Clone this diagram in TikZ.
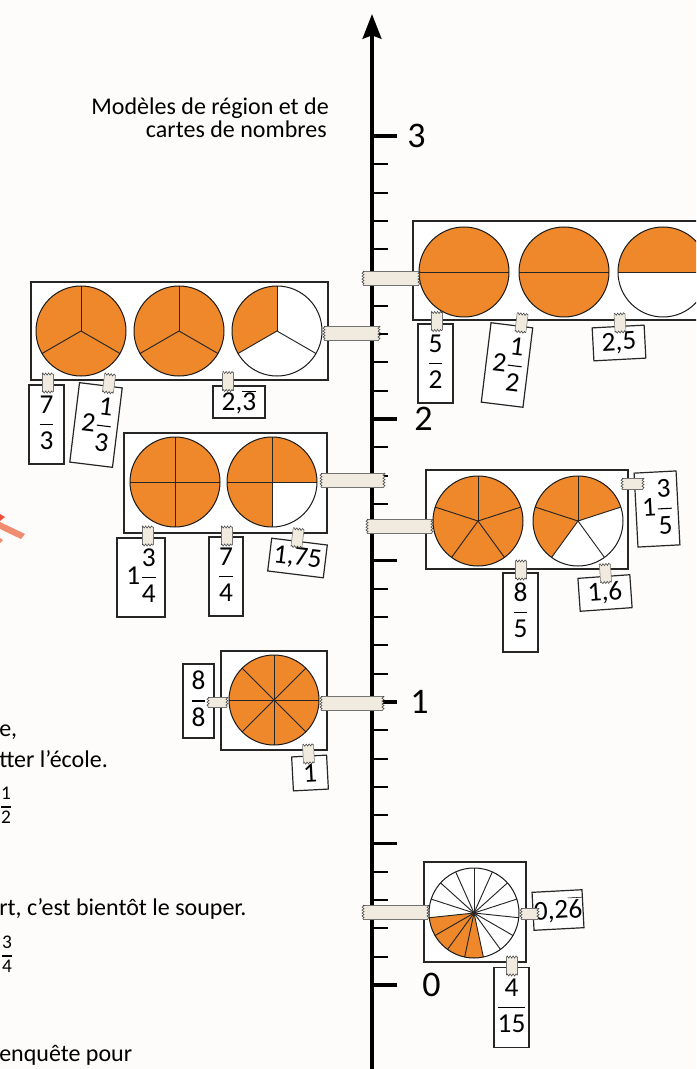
\documentclass[tikz,border=0pt]{standalone}
\usepackage{fontspec}
\setmainfont{Carlito}
\usetikzlibrary{arrows.meta,decorations.pathmorphing}
\definecolor{bg}{RGB}{253,252,250}
\definecolor{org}{RGB}{239,136,42}
\definecolor{tapec}{RGB}{240,235,222}
\definecolor{salmon}{RGB}{240,140,112}
\definecolor{redbit}{RGB}{238,80,60}
\setlength\arrayrulewidth{0.8pt}
\newcommand\frc[2]{{\renewcommand\arraystretch{1.1}\begin{tabular}{@{}c@{}}#1\\\hline #2\end{tabular}}}
\newcommand\mixed[3]{#1\kern1.2pt\frc{#2}{#3}}
\newcommand\piefull[3]{\fill[org] (#1,-#2) circle (45);
  \foreach \a in {#3} \draw[seg] (#1,-#2) -- ++(\a:45);
  \draw[rim] (#1,-#2) circle (45);}
\newcommand\piepart[5]{\fill[white] (#1,-#2) circle (45);
  \fill[org] (#1,-#2) -- ++(#3:45) arc[start angle=#3,end angle=#4,radius=45] -- cycle;
  \foreach \a in {#5} \draw[seg] (#1,-#2) -- ++(\a:45);
  \draw[rim] (#1,-#2) circle (45);}
\newcommand\htape[4]{\fill[tapec] (#1,-#3+#4) rectangle (#2,-#3-#4);
  \draw[tapeedge] (#1,-#3+#4) -- (#2,-#3+#4) (#1,-#3-#4) -- (#2,-#3-#4);
  \draw[tapeend] (#1,-#3+#4) -- (#1,-#3-#4);
  \draw[tapeend] (#2,-#3+#4) -- (#2,-#3-#4);}
\newcommand\cardnode[7]{\node[card,minimum width=#4*0.75pt,minimum height=#5*0.75pt,rotate=#6] (#1) at (#2,-#3) {#7};}
\begin{document}
\begin{tikzpicture}[x=0.75pt,y=0.75pt,
  box/.style={draw=black!85,line width=0.9pt,fill=white},
  card/.style={draw=black!85,line width=0.9pt,fill=white,inner sep=0pt,font=\fontsize{20.5}{24}\selectfont},
  tapeedge/.style={draw=black!55,line width=0.4pt},
  tapeend/.style={draw=black!75,line width=0.4pt,decorate,decoration={zigzag,amplitude=0.8pt,segment length=2.2pt}},
  seg/.style={draw=black!85,line width=0.7pt},
  rim/.style={draw=black!90,line width=0.75pt},
  minor/.style={line width=1.5pt},
  major/.style={line width=2.4pt},
  axlabel/.style={anchor=west,inner sep=0pt,font=\fontsize{27}{30}\selectfont},
  txt/.style={anchor=base west,inner sep=0pt,font=\fontsize{18}{21}\selectfont},
  vtape/.pic={\fill[tapec] (-5.5,-9) rectangle (5.5,9);
    \draw[tapeedge] (-5.5,-9) -- (-5.5,9) (5.5,-9) -- (5.5,9);
    \draw[tapeend] (-5.5,9) -- (5.5,9);
    \draw[tapeend] (-5.5,-9) -- (5.5,-9);}]
\useasboundingbox (0,0) rectangle (696,-1069);
\fill[bg] (0,0) rectangle (696,-1069);
\clip (0,0) rectangle (696,-1069);

% number line
\draw[line width=3pt,-{Stealth[length=18.5pt,width=14pt,inset=2.5pt]}] (372,-1075) -- (372,-14);
\foreach \i in {0,...,30} \draw[minor] (372,{-985+\i*28.3}) -- (388,{-985+\i*28.3});
\foreach \i in {0,5,...,30} \draw[major] (372,{-985+\i*28.3}) -- (397,{-985+\i*28.3});
\node[axlabel] (l3) at (407,-136) {3};
\node[axlabel] (l2) at (414,-419) {2};
\node[axlabel] (l1) at (410,-702) {1};
\node[axlabel] (l0) at (422,-985) {0};

% title
\node[anchor=base east,inner sep=0pt,font=\fontsize{18}{21}\selectfont] (t1) at (329,-115) {Modèles de région et de};
\node[anchor=base east,inner sep=0pt,font=\fontsize{18}{21}\selectfont] (t2) at (327,-138) {cartes de nombres};

% left fragments
\fill[redbit] (0,-514) -- (5,-517) -- (0,-521) -- cycle;
\fill[salmon] (0,-522) -- (25,-534) -- (21,-539) -- (0,-529) -- cycle;
\fill[salmon] (0,-538) -- (3,-540) -- (0,-543) -- cycle;
\node[txt] (f1) at (-1,-736) {e,};
\node[txt] (f2) at (-1,-767) {tter l’école.};
\node[inner sep=0pt,font=\fontsize{14.5}{16}\selectfont] (f3) at (6,-807) {\frc{1}{2}};
\node[txt] (f4) at (-1,-915) {rt, c’est bientôt le souper.};
\node[inner sep=0pt,font=\fontsize{14.5}{16}\selectfont] (f5) at (7,-956) {\frc{3}{4}};
\node[txt] (f6) at (-1,-1061) {enquête pour};

% group A : 7/3
\draw[box] (31,-282) rectangle (328,-380);
\piefull{81}{331}{90,210,330}
\piefull{179}{331}{90,210,330}
\piepart{277}{331}{90}{210}{90,210,330}
\cardnode{c73}{46.5}{424.5}{35}{79}{0}{\frc{7}{3}}
\cardnode{c213}{96}{425}{43}{80}{-7}{\mixed{2}{1}{3}}
\cardnode{c23}{239}{402}{52}{32}{0}{2,\ensuremath{\overline{\hbox{3}}}}

% group B : 5/2
\draw[box] (413,-221) rectangle (705,-320);
\piefull{464}{272}{0,180}
\piefull{564}{272}{0,180}
\piepart{663}{272}{0}{180}{0,180}
\cardnode{c52}{435.5}{363.5}{35}{79}{0}{\frc{5}{2}}
\cardnode{c212}{507}{365}{42}{80}{-7}{\mixed{2}{1}{2}}
\cardnode{c25}{619}{343}{52}{33}{3}{2,5}

% group C : 7/4
\draw[box] (124,-433) rectangle (327,-533);
\piefull{175}{482}{0,90,180,270}
\piepart{272}{482}{0}{270}{0,90,180,270}
\cardnode{c134}{141}{577.5}{48}{79}{0}{\mixed{1}{3}{4}}
\cardnode{c74}{226}{576.5}{34}{79}{0}{\frc{7}{4}}
\cardnode{c175}{297.5}{558}{56}{33}{-7}{1,75}

% group D : 8/5
\draw[box] (426,-470) rectangle (628,-569);
\piefull{478}{521}{18,90,162,234,306}
\piepart{578}{521}{18}{234}{18,90,162,234,306}
\cardnode{c85}{520.5}{612.5}{35}{79}{0}{\frc{8}{5}}
\cardnode{c16}{605}{593}{52}{33}{4}{1,6}
\cardnode{c135}{657}{509}{42}{74}{3}{\mixed{1}{3}{5}}

% group E : 8/8
\draw[box] (221,-651) rectangle (327,-750);
\piefull{274}{700}{0,45,...,315}
\cardnode{c88}{198.5}{701}{31}{74}{0}{\frc{8}{8}}
\cardnode{c1}{310}{773}{35}{34}{3}{1}

% group F : 4/15
\draw[box] (424,-862) rectangle (526,-962);
\piepart{474}{913}{186}{282}{90,114,...,426}
\cardnode{c026}{558}{910}{50}{38}{3}{0,2\ensuremath{\overline{\hbox{6}}}}
\cardnode{c415}{511.5}{1007.5}{35}{80}{0}{\frc{4}{15}}

% long tapes to the number line
\htape{324}{379}{333}{7}
\htape{363}{419}{278}{7}
\htape{321}{384}{480}{7}
\htape{367}{432}{526}{7}
\htape{321}{383}{703}{7}
\htape{363}{428}{912}{7}
% short horizontal tapes
\htape{622}{643}{483.5}{5.5}
\htape{208}{227}{702}{5}
\htape{521}{538}{913.5}{5.5}
% small vertical tapes
\pic at (47.5,-383) {vtape};
\pic[rotate=-7] at (109,-383.5) {vtape};
\pic at (228,-381.5) {vtape};
\pic at (436.5,-321.5) {vtape};
\pic[rotate=-7] at (521.5,-323) {vtape};
\pic[rotate=3] at (620,-323) {vtape};
\pic at (147.5,-536) {vtape};
\pic at (226.5,-536) {vtape};
\pic[rotate=-7] at (297.5,-538) {vtape};
\pic at (521,-570) {vtape};
\pic[rotate=4] at (605.5,-573.5) {vtape};
\pic[rotate=3] at (308.5,-754) {vtape};
\pic at (512,-966) {vtape};
\end{tikzpicture}
\end{document}
